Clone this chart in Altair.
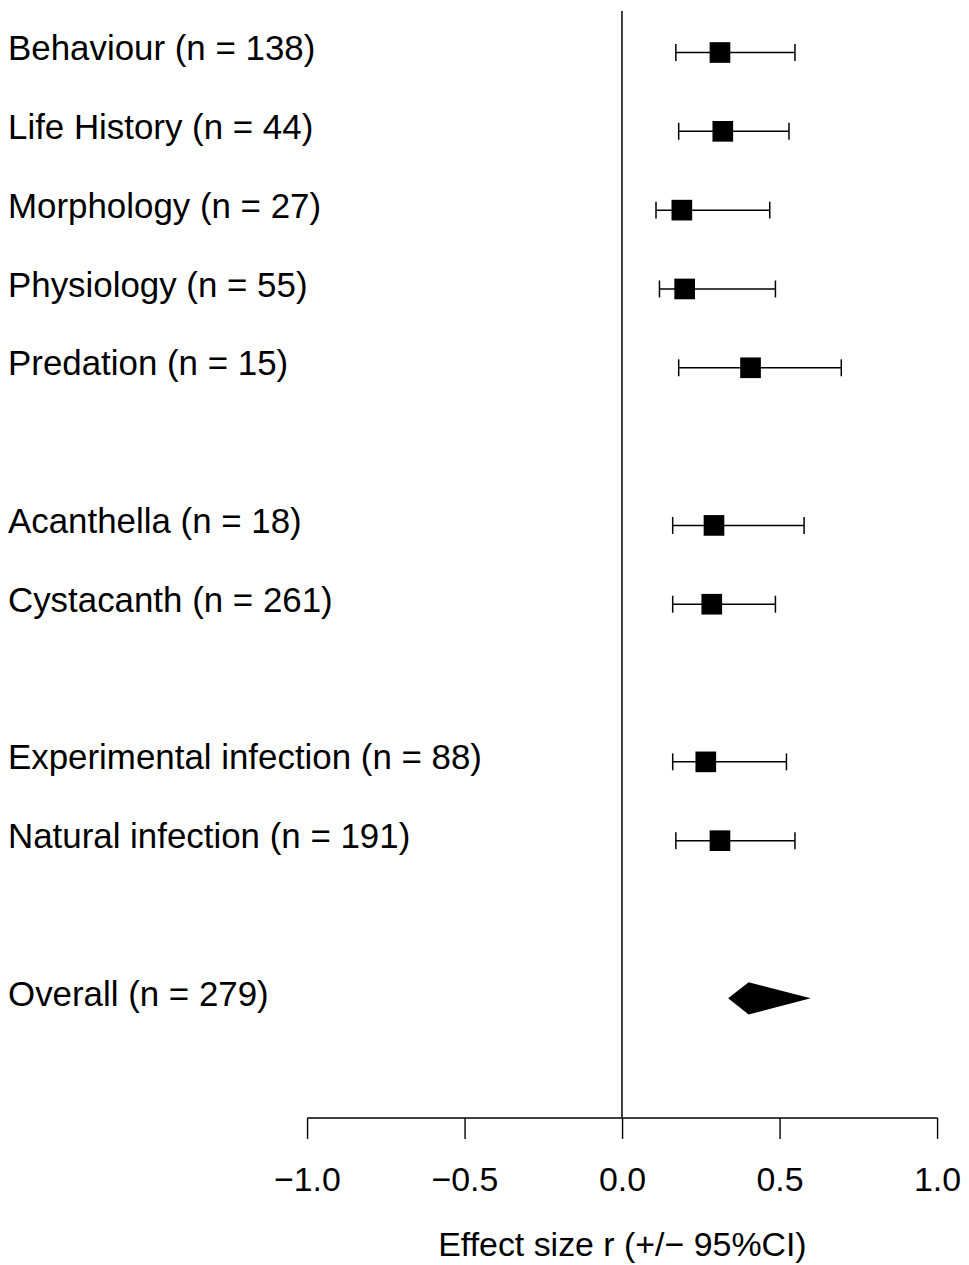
import altair as alt
import pandas as pd

labels = [
    "Behaviour (n = 138)",
    "Life History (n = 44)",
    "Morphology (n = 27)",
    "Physiology (n = 55)",
    "Predation (n = 15)",
    "Acanthella (n = 18)",
    "Cystacanth (n = 261)",
    "Experimental infection (n = 88)",
    "Natural infection (n = 191)",
    "Overall (n = 279)",
]
rows = [0, 1, 2, 3, 4, 6, 7, 9, 10, 12]
estimate = [0.311, 0.320, 0.190, 0.199, 0.408, 0.292, 0.285, 0.266, 0.311, 0.402]
lower = [0.171, 0.180, 0.108, 0.119, 0.180, 0.161, 0.161, 0.161, 0.171, 0.337]
upper = [0.549, 0.530, 0.469, 0.487, 0.696, 0.578, 0.487, 0.522, 0.549, 0.599]
tick_values = [-1.0, -0.5, 0.0, 0.5, 1.0]
x_title = "Effect size r (+/\u2212 95%CI)"

FONT = "Liberation Sans"

df = pd.DataFrame({"label": labels, "row": rows, "est": estimate,
                   "lo": lower, "hi": upper})
studies = df.iloc[:-1].copy()
ov = df.iloc[-1]

half_h = 0.205
diamond = pd.DataFrame({
    "x": [ov["lo"], ov["est"], ov["hi"]],
    "y": [ov["row"], ov["row"] - half_h, ov["row"]],
    "y2": [ov["row"], ov["row"] + half_h, ov["row"]],
})

caps = pd.concat([
    studies[["row"]].assign(v=studies["lo"]),
    studies[["row"]].assign(v=studies["hi"]),
])

x_scale = alt.Scale(domain=[-1, 1], range=[299.8, 932.0], nice=False, zero=False)
y_scale = alt.Scale(domain=[-0.527, 13.512], reverse=True, nice=False, zero=False)

x_axis = alt.Axis(
    values=tick_values, format=".1f", title=x_title, grid=False,
    domainColor="black", domainWidth=1.4, tickColor="black", tickWidth=1.4,
    tickSize=21, labelFont=FONT, labelFontSize=34, labelColor="black",
    labelFlush=False, labelOverlap=False, labelBound=False,
    labelBaseline="alphabetic", labelPadding=52,
    titleFont=FONT, titleFontSize=34, titleFontWeight="normal", titleColor="black",
    titleBaseline="alphabetic", titleY=138.5,
)

zero_line = alt.Chart(pd.DataFrame({"z": [0.0]})).mark_rule(
    color="black", strokeWidth=1.5
).encode(x=alt.X("z:Q", scale=x_scale, axis=x_axis))

bars = alt.Chart(studies).mark_rule(color="black", strokeWidth=1.5).encode(
    x=alt.X("lo:Q", scale=x_scale), x2="hi:Q",
    y=alt.Y("row:Q", scale=y_scale, axis=None),
)

cap_marks = alt.Chart(caps).mark_tick(
    orient="vertical", size=17, thickness=1.5, color="black", opacity=1
).encode(
    x=alt.X("v:Q", scale=x_scale),
    y=alt.Y("row:Q", scale=y_scale, axis=None),
)

squares = alt.Chart(studies).mark_square(
    size=430, color="black", filled=True, opacity=1
).encode(
    x=alt.X("est:Q", scale=x_scale),
    y=alt.Y("row:Q", scale=y_scale, axis=None),
)

diamond_mark = alt.Chart(diamond).mark_area(
    orient="vertical", color="black", opacity=1
).encode(
    x=alt.X("x:Q", scale=x_scale),
    y=alt.Y("y:Q", scale=y_scale, axis=None),
    y2="y2:Q",
)

text_marks = alt.Chart(df).mark_text(
    align="left", baseline="alphabetic", dy=7.6, font=FONT, fontSize=35, color="black"
).encode(
    x=alt.value(0),
    y=alt.Y("row:Q", scale=y_scale, axis=None),
    text="label:N",
)

chart = alt.layer(
    zero_line, bars, cap_marks, squares, diamond_mark, text_marks
).properties(
    width=953, height=1110, padding=0, background="white"
).configure_view(stroke=None)

chart.save("out.html", embed_options={"renderer": "svg", "actions": False})
